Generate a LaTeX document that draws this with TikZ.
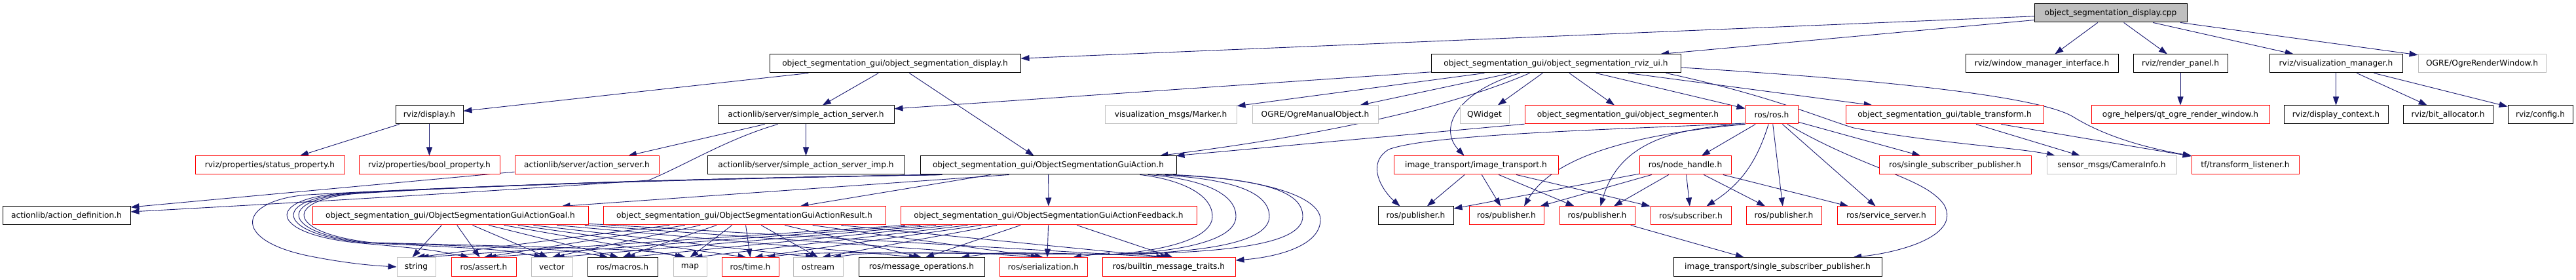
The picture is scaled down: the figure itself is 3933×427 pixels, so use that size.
\documentclass[tikz,border=0pt]{standalone}
\usepackage{fontspec}
\setmainfont{DejaVu Sans}
\usetikzlibrary{arrows.meta,calc}
\definecolor{edgeblue}{RGB}{25,25,112}
\definecolor{greyborder}{RGB}{191,191,191}
\pgfdeclarelayer{bg}
\pgfsetlayers{bg,main}
\begin{document}
\begin{tikzpicture}[x=1pt,y=-1pt,
  nbox/.style={draw, line width=1pt, rectangle, minimum height=28pt, inner sep=0pt, font=\fontsize{12.2}{14}\selectfont, fill=white},
  blk/.style={nbox, draw=black},
  redb/.style={nbox, draw=red},
  gryb/.style={nbox, draw=greyborder},
  rootbox/.style={nbox, draw=black, fill=greyborder},
  conn/.style={draw=edgeblue, line width=0.9pt, -{Triangle[length=13pt,width=9pt]}},
]
\useasboundingbox (0,0) rectangle (3933,427);
% row 0
\node[rootbox, minimum width=233pt] (cpp) at (3222.5,20) {object\_segmentation\_display.cpp};
% row 1
\node[blk, minimum width=383pt] (osd) at (1366.5,97) {object\_segmentation\_gui/object\_segmentation\_display.h};
\node[blk, minimum width=381pt] (rvizui) at (2375.5,97) {object\_segmentation\_gui/object\_segmentation\_rviz\_ui.h};
\node[blk, minimum width=233pt] (wmi) at (3117.5,97) {rviz/window\_manager\_interface.h};
\node[blk, minimum width=144pt] (renderpanel) at (3329,97) {rviz/render\_panel.h};
\node[blk, minimum width=203pt] (vizmgr) at (3566.5,97) {rviz/visualization\_manager.h};
\node[gryb, minimum width=195pt] (ogrerw) at (3789.5,97) {OGRE/OgreRenderWindow.h};
% row 2
\node[blk, minimum width=103pt] (display) at (655.5,175) {rviz/display.h};
\node[blk, minimum width=269pt] (sas) at (1230.5,175) {actionlib/server/simple\_action\_server.h};
\node[gryb, minimum width=201pt] (marker) at (1787.5,175) {visualization\_msgs/Marker.h};
\node[gryb, minimum width=192pt] (ogremo) at (2008,175) {OGRE/OgreManualObject.h};
\node[gryb, minimum width=75pt] (qwidget) at (2266.5,175) {QWidget};
\node[redb, minimum width=315pt] (segmenter) at (2485.5,175) {object\_segmentation\_gui/object\_segmenter.h};
\node[redb, minimum width=80pt] (rosros) at (2705,175) {ros/ros.h};
\node[redb, minimum width=302pt] (table) at (2969,175) {object\_segmentation\_gui/table\_transform.h};
\node[redb, minimum width=272pt] (qtogre) at (3329,175) {ogre\_helpers/qt\_ogre\_render\_window.h};
\node[blk, minimum width=159pt] (dispctx) at (3566.5,175) {rviz/display\_context.h};
\node[blk, minimum width=137pt] (bitalloc) at (3737.5,175) {rviz/bit\_allocator.h};
\node[blk, minimum width=99pt] (config) at (3878.5,175) {rviz/config.h};
% row 3
\node[redb, minimum width=228pt] (status) at (412,252) {rviz/properties/status\_property.h};
\node[redb, minimum width=215pt] (bool) at (655.5,252) {rviz/properties/bool\_property.h};
\node[redb, minimum width=220pt] (actsrv) at (896,252) {actionlib/server/action\_server.h};
\node[blk, minimum width=301pt] (sasimp) at (1230.5,252) {actionlib/server/simple\_action\_server\_imp.h};
\node[blk, minimum width=391pt] (guiaction) at (1600.5,252) {object\_segmentation\_gui/ObjectSegmentationGuiAction.h};
\node[redb, minimum width=251pt] (imgtr) at (2253.5,252) {image\_transport/image\_transport.h};
\node[redb, minimum width=140pt] (nodehandle) at (2573,252) {ros/node\_handle.h};
\node[redb, minimum width=232pt] (ssp) at (2985,252) {ros/single\_subscriber\_publisher.h};
\node[gryb, minimum width=198pt] (caminfo) at (3224,252) {sensor\_msgs/CameraInfo.h};
\node[redb, minimum width=164pt] (tflistener) at (3428,252) {tf/transform\_listener.h};
% row 4
\node[blk, minimum width=195pt] (actdef) at (101.5,329) {actionlib/action\_definition.h};
\node[redb, minimum width=421pt] (goal) at (687.5,329) {object\_segmentation\_gui/ObjectSegmentationGuiActionGoal.h};
\node[redb, minimum width=431pt] (result) at (1136.5,329) {object\_segmentation\_gui/ObjectSegmentationGuiActionResult.h};
\node[redb, minimum width=452pt] (feedback) at (1601,329) {object\_segmentation\_gui/ObjectSegmentationGuiActionFeedback.h};
\node[blk, minimum width=115pt] (pubA) at (2161.5,329) {ros/publisher.h};
\node[redb, minimum width=114pt] (pubB) at (2300,329) {ros/publisher.h};
\node[redb, minimum width=115pt] (pubC) at (2438.5,329) {ros/publisher.h};
\node[redb, minimum width=123pt] (subscriber) at (2581.5,329) {ros/subscriber.h};
\node[redb, minimum width=115pt] (pubD) at (2723.5,329) {ros/publisher.h};
\node[redb, minimum width=150pt] (servsrv) at (2880,329) {ros/service\_server.h};
% row 5
\node[gryb, minimum width=59pt] (string) at (635.5,407) {string};
\node[redb, minimum width=99pt] (assert) at (738.5,407) {ros/assert.h};
\node[gryb, minimum width=63pt] (vector) at (842.5,407) {vector};
\node[blk, minimum width=107pt] (macros) at (950.5,407) {ros/macros.h};
\node[gryb, minimum width=51pt] (map) at (1053.5,407) {map};
\node[redb, minimum width=87pt] (time) at (1145.5,407) {ros/time.h};
\node[gryb, minimum width=76pt] (ostream) at (1249,407) {ostream};
\node[blk, minimum width=192pt] (msgops) at (1407,407) {ros/message\_operations.h};
\node[redb, minimum width=134pt] (serialization) at (1593,407) {ros/serialization.h};
\node[redb, minimum width=203pt] (builtin) at (1784.5,407) {ros/builtin\_message\_traits.h};
\node[blk, minimum width=318pt] (itssp) at (2714,407) {image\_transport/single\_subscriber\_publisher.h};

\begin{pgfonlayer}{bg}
% root
\draw[conn] (cpp) -- (osd);
\draw[conn] (cpp) -- (rvizui);
\draw[conn] (cpp) -- (wmi);
\draw[conn] (cpp) -- (renderpanel);
\draw[conn] (cpp) -- (vizmgr);
\draw[conn] (cpp) -- (ogrerw);
\draw[conn] (renderpanel) -- (qtogre);
\draw[conn] (vizmgr) -- (dispctx);
\draw[conn] (vizmgr) -- (bitalloc);
\draw[conn] (vizmgr) -- (config);
% display side
\draw[conn] (osd) -- (display);
\draw[conn] (osd) -- (sas);
\draw[conn] (osd) -- (guiaction);
\draw[conn] (display) -- (status);
\draw[conn] (display) -- (bool);
\draw[conn] (sas) -- (actsrv);
\draw[conn] (sas) -- (sasimp);
\draw[conn] (actsrv) -- ([shift={(0,-13)}]actdef.east);
\draw[conn] ([xshift=-43pt]sas.south) .. controls (1110,212) and (1050,250) .. (990,275) .. controls (700,295) and (400,312) .. ([shift={(0,-6)}]actdef.east);
% rviz ui
\draw[conn] (rvizui) -- (sas);
\draw[conn] (rvizui) -- (marker);
\draw[conn] (rvizui) -- (ogremo);
\draw[conn] ([xshift=-55pt]rvizui.south) .. controls (2225,140) and (2195,195) .. ([xshift=-18pt]imgtr.north);
\draw[conn] ([xshift=-40pt]rvizui.south) .. controls (2200,170) and (1990,210) .. ([xshift=170pt]guiaction.north);
\draw[conn] (rvizui) -- (qwidget);
\draw[conn] (rvizui) -- (segmenter);
\draw[conn] (rvizui) -- (rosros);
\draw[conn] (rvizui) -- (table);
\draw[conn] ([xshift=168pt]rvizui.south) .. controls (2700,145) and (2780,180) .. (2830,195) .. controls (2950,218) and (3080,225) .. ([xshift=-86pt]caminfo.north);
\draw[conn] ([shift={(0,6)}]rvizui.east) .. controls (2850,120) and (3110,145) .. (3165,178) .. controls (3220,212) and (3290,228) .. ([xshift=-82pt]tflistener.north);
\draw[conn] (segmenter) -- ([xshift=195pt]guiaction.north);
\draw[conn] (table) -- (caminfo);
\draw[conn] (table) -- (tflistener);
% ros
\draw[conn] (rosros) -- (nodehandle);
\draw[conn] (rosros) to[bend left=20] (subscriber);
\draw[conn] (rosros) -- (pubD);
\draw[conn] (rosros) -- (servsrv);
\draw[conn] (rosros) -- (ssp);
\draw[conn] ([xshift=24pt]rosros.south) .. controls (2850,260) and (2938,270) .. (2968,312) .. controls (2995,360) and (2900,385) .. ([xshift=115pt]itssp.north);
\draw[conn] ([shift={(0,13)}]rosros.west) .. controls (2450,198) and (2180,205) .. (2120,228) .. controls (2085,250) and (2110,290) .. ([xshift=-24pt]pubA.north);
\draw[conn] (rosros.south west) .. controls (2490,205) and (2370,240) .. ([xshift=27pt]pubB.north);
\draw[conn] (rosros.south west) .. controls (2540,195) and (2470,225) .. ([xshift=5pt]pubC.north);
\draw[conn] (imgtr) -- (pubA);
\draw[conn] (imgtr) -- (pubB);
\draw[conn] (imgtr) -- (pubC);
\draw[conn] (imgtr) -- (subscriber);
\draw[conn] (nodehandle) -- (pubA);
\draw[conn] (nodehandle) -- (pubB);
\draw[conn] (nodehandle) -- (pubC);
\draw[conn] (nodehandle) -- (subscriber);
\draw[conn] (nodehandle) -- (pubD);
\draw[conn] (nodehandle) -- (servsrv);
\draw[conn] (pubC) -- (itssp);
% messages
\draw[conn] ([xshift=-60pt]guiaction.south) -- ([xshift=170pt]goal.north);
\draw[conn] ([xshift=-88pt]guiaction.south) -- ([xshift=85pt]result.north);
\draw[conn] (guiaction) -- (feedback);
\foreach \s/\d in {goal/-6,result/0,feedback/6} {
  \foreach \t in {string,assert,vector,macros,map,time,ostream,msgops,serialization,builtin} {
    \draw[conn] (\s) -- ([xshift=\d pt]\t.north);
  }
}
\draw[conn] ([xshift=-170pt]guiaction.south) .. controls (1000,274) and (650,287) .. (470,297) .. controls (365,305) and (350,365) .. (470,390) .. controls (530,402) and (570,405) .. (string.west);
\foreach \t/\lx/\sx/\ax in {assert/432/-168/-22, vector/442/-166/-14, macros/450/-164/-22, map/458/-162/-10} {
  \draw[conn] ([xshift=\sx pt]guiaction.south) .. controls (1000,273) and (700,285) .. ({\lx+90},295) .. controls ({\lx-25},303) and ({\lx-25},355) .. ({\lx+110},370) .. controls ($(\t.north)+({\ax-60},-12)$) .. ([xshift=\ax pt]\t.north);
}
\foreach \t/\rx/\sx/\ax in {time/1851/140/25, ostream/1887/152/22, msgops/1938/165/60, serialization/1989/178/45} {
  \draw[conn] ([xshift=\sx pt]guiaction.south) .. controls ({\rx-60},272) and (\rx,292) .. (\rx,330) .. controls (\rx,372) and ({\rx-110},386) .. (1690,388) .. controls ($(\t.north)+({\ax+60},-8)$) .. ([xshift=\ax pt]\t.north);
}
\draw[conn] ([xshift=190pt]guiaction.south) .. controls (1930,272) and (2016,300) .. (2016,335) .. controls (2016,375) and (1950,392) .. ([shift={(0,-10)}]builtin.east);
\end{pgfonlayer}
\end{tikzpicture}
\end{document}
